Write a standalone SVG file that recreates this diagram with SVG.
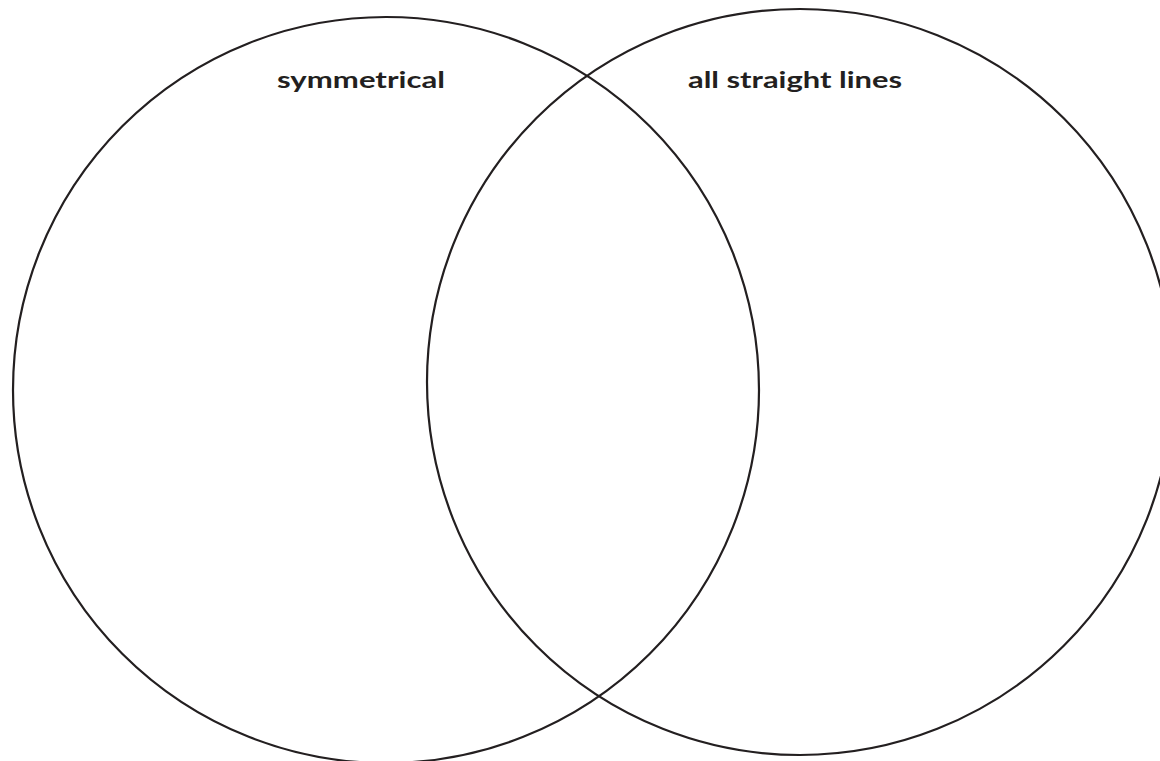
<svg xmlns="http://www.w3.org/2000/svg" width="1160" height="761" viewBox="0 0 1160 761">
<style>
.c{fill:none;stroke:#231f20;stroke-width:2.2}
.t{font-family:"Lato","Liberation Sans",sans-serif;font-weight:bold;font-size:22px;fill:#231f20;text-anchor:middle}
</style>
<rect width="1160" height="761" fill="#fff"/>
<g id="set-symmetrical">
<circle class="c" cx="386" cy="390" r="373"/>
<text class="t" x="361" y="88" textLength="168" lengthAdjust="spacingAndGlyphs">symmetrical</text>
</g>
<g id="set-straight">
<circle class="c" cx="800" cy="382" r="373"/>
<text class="t" x="795" y="88" textLength="214" lengthAdjust="spacingAndGlyphs">all straight lines</text>
</g>
<g id="connectors"></g>
</svg>
